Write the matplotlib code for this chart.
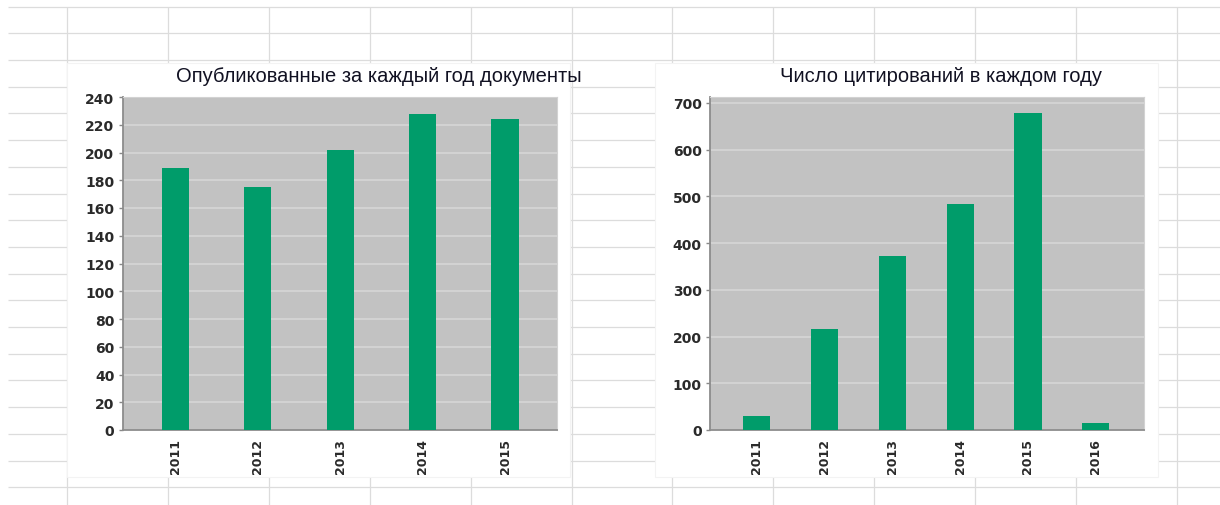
import matplotlib
matplotlib.use("Agg")
import matplotlib.pyplot as plt
from matplotlib.patches import Rectangle

# ---- data ----
years_pub = ["2011", "2012", "2013", "2014", "2015"]
docs_per_year = [189, 175, 202, 228, 224]
title_pub = "Опубликованные за каждый год документы"
yticks_pub = list(range(0, 241, 20))

years_cit = ["2011", "2012", "2013", "2014", "2015", "2016"]
citations_per_year = [31, 216, 373, 484, 679, 15]
title_cit = "Число цитирований в каждом году"
yticks_cit = list(range(0, 701, 100))

# ---- style ----
W, H = 1220, 506
BAR = "#009c6a"
PLOT_BG = "#c2c2c2"
GRID = "#d8d8d8"
SHEET_LINE = "#dcdcdc"
TXT = "#2a2a2a"

plt.rcParams["font.family"] = ["DejaVu Sans"]
fig = plt.figure(figsize=(W / 100, H / 100), dpi=100)
fig.patch.set_facecolor("white")

# spreadsheet background
bg = fig.add_axes([0, 0, 1, 1], zorder=0)
bg.set_xlim(0, W)
bg.set_ylim(H, 0)
bg.axis("off")
row_y = [7.6 + 26.7 * k for k in range(19)]
col_x = [67 + 100.9 * k for k in range(12)]
bg.hlines(row_y, 8, W, color=SHEET_LINE, lw=0.9)
bg.vlines(col_x, 7.6, H, color=SHEET_LINE, lw=0.9)
# chart boxes (white)
for x0, x1 in [(67, 570), (655, 1158)]:
    bg.add_patch(Rectangle((x0, 64), x1 - x0, 478 - 64, facecolor="white",
                           edgecolor="#f3f3f3", lw=0.8, zorder=3))


def make_chart(rect, cats, vals, yticks, ylim, xlim, width, title, title_x):
    ax = fig.add_axes(rect, zorder=5)
    ax.set_facecolor(PLOT_BG)
    x = list(range(len(cats)))
    ax.bar(x, vals, width=width, color=BAR, zorder=3)
    ax.set_xlim(*xlim)
    ax.set_ylim(*ylim)
    ax.set_yticks(yticks)
    ax.set_yticklabels([str(t) for t in yticks], fontsize=10, fontweight="bold", color=TXT)
    ax.set_xticks(x)
    ax.set_xticklabels(cats, rotation=90, fontsize=9, fontweight="bold", color=TXT)
    ax.tick_params(axis="x", length=0, pad=6)
    ax.tick_params(axis="y", length=3, width=1, color="#888888", pad=3)
    ax.yaxis.grid(True, color=GRID, lw=1.1, zorder=1)
    ax.set_axisbelow(True)
    for s in ("left", "bottom"):
        ax.spines[s].set_color("#8c8c8c")
        ax.spines[s].set_linewidth(1.3)
    for s in ("top", "right"):
        ax.spines[s].set_color("#d2d2d2")
        ax.spines[s].set_linewidth(0.8)
    fig.text(title_x, (H - 76) / H, title, ha="center", va="center",
             fontsize=14.5, color="#111122", family=["Liberation Sans", "DejaVu Sans"],
             zorder=10)
    return ax


make_chart([122.7 / W, (H - 431) / H, 434.3 / W, 333 / H], years_pub, docs_per_year,
           yticks_pub, (0, 240), (-0.64, 4.63), 0.33, title_pub, 379 / W)
make_chart([710 / W, (H - 431) / H, 434 / W, 333.3 / H], years_cit, citations_per_year,
           yticks_cit, (0, 713), (-0.685, 5.71), 0.40, title_cit, 940.5 / W)

fig.savefig("out.png", dpi=100, facecolor="white")
